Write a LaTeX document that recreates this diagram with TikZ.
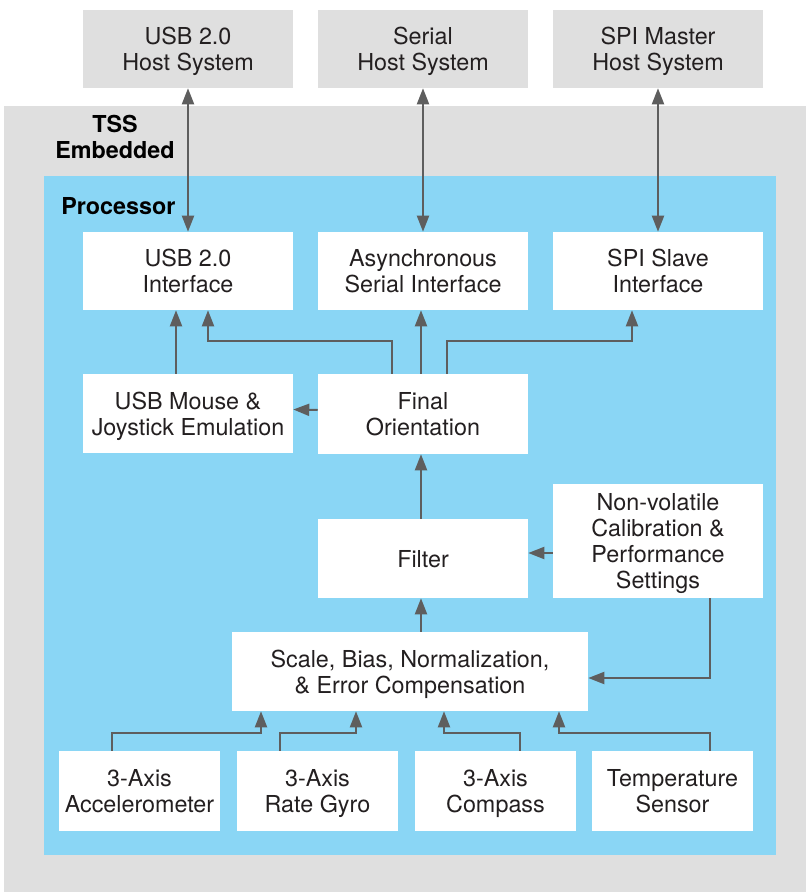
\documentclass[tikz,border=0pt]{standalone}
\usepackage{fontspec}
\setmainfont{TeX Gyre Heros}
\usetikzlibrary{arrows.meta,calc}
\definecolor{tssgrey}{HTML}{DFDFDF}
\definecolor{procblue}{HTML}{8AD6F5}
\definecolor{linkgrey}{HTML}{5E5E5E}
\definecolor{inktext}{HTML}{231F20}
\tikzset{
	block/.style={fill=white, text=inktext, align=center, inner sep=0pt,
		minimum width=157.5pt, minimum height=58.5pt, text depth=0pt,
		font=\fontsize{17.5}{19.3}\selectfont},
	hostblock/.style={block, fill=tssgrey},
	sensorblock/.style={block, minimum width=120.75pt, minimum height=60pt},
	tsslabel/.style={text=black, align=center, inner sep=0pt,
		font=\bfseries\fontsize{17.5}{19}\selectfont},
	link/.style={draw=linkgrey, line width=1.5pt, -{Triangle[length=12pt,width=9pt]}},
	duplex/.style={link, {Triangle[length=12pt,width=9pt]}-{Triangle[length=12pt,width=9pt]}}
}
\begin{document}
\begin{tikzpicture}[x=0.75pt, y=-0.75pt]
					%\draw[help lines] (0,0) grid[step=50] (806,892);
					\useasboundingbox (0,0) rectangle (806,892);
					\fill[tssgrey] (4,106) rectangle (806,892);
					\fill[procblue] (44,176) rectangle (776,855);
					\node[tsslabel] (tss) at (115,137) {TSS\\Embedded};
					\node[tsslabel, anchor=west] (proc) at (61,206) {Processor};
					
					% hosts
					\node[hostblock] (usbhost) at (188,49) {USB 2.0\\Host System};
					\node[hostblock] (serhost) at (423,49) {Serial\\Host System};
					\node[hostblock] (spihost) at (658,49) {SPI Master\\Host System};
					
					% interfaces
					\node[block] (usbif) at (188,271) {USB 2.0\\Interface};
					\node[block] (asyncif) at (423,271) {Asynchronous\\Serial Interface};
					\node[block] (spiif) at (658,271) {SPI Slave\\Interface};
					
					\node[block, minimum height=59.25pt] (mouse) at (188,413.5) {USB Mouse \&\\Joystick Emulation};
					\node[block, minimum height=60pt] (final) at (423,414) {Final\\Orientation};
					\node[block, minimum height=59.25pt] (filter) at (423,558.5) {Filter};
					\node[block, minimum height=85.5pt] (nonvol) at (658,541) {Non-volatile\\Calibration \&\\Performance\\Settings};
					\node[block, minimum width=267pt, minimum height=59.25pt] (scale) at (410,671.5) {Scale, Bias, Normalization,\\\& Error Compensation};
					
					% sensors
					\node[sensorblock] (accel) at (139.5,791) {3-Axis\\Accelerometer};
					\node[sensorblock] (gyro) at (317.5,791) {3-Axis\\Rate Gyro};
					\node[sensorblock] (compass) at (495.5,791) {3-Axis\\Compass};
					\node[sensorblock] (temp) at (672.5,791) {Temperature\\Sensor};
					
					\draw[duplex] (usbhost.south) -- (usbif.north);
					\draw[duplex] (serhost.south) -- (asyncif.north);
					\draw[duplex] (spihost.south) -- (spiif.north);
					
					\draw[link] ($(mouse.north)+(-12,0)$) -- ($(usbif.south)+(-12,0)$);
					\draw[link] ($(final.north)+(-31,0)$) -- ++(0,-33) -| ($(usbif.south)+(20,0)$);
					\draw[link] ($(final.north)+(-2,0)$) -- ($(asyncif.south)+(-2,0)$);
					\draw[link] ($(final.north)+(24,0)$) -- ++(0,-33) -| ($(spiif.south)+(-26,0)$);
					\draw[link] ($(final.west)+(0,-4)$) -- ($(mouse.east)+(0,-4)$);
					\draw[link] ($(filter.north)+(-2,0)$) -- ($(final.south)+(-2,0)$);
					\coordinate (nv) at ($(nonvol.west)+(0,12)$);
					\draw[link] (nv) -- (nv -| filter.east);
					\coordinate (sc) at ($(filter.south)+(-2,0)$);
					\draw[link] (sc |- scale.north) -- (sc);
					\draw[link] ($(nonvol.south)+(52,0)$) |- ($(scale.east)+(0,6.5)$);
					
					\draw[link] ($(accel.north)+(-28,0)$) -- ++(0,-18) -| ($(scale.south)+(-149,0)$);
					\draw[link] ($(gyro.north)+(-37.5,0)$) -- ++(0,-18) -| ($(scale.south)+(-54,0)$);
					\draw[link] ($(compass.north)+(24.5,0)$) -- ++(0,-18) -| ($(scale.south)+(34,0)$);
					\draw[link] ($(temp.north)+(37.5,0)$) -- ++(0,-18) -| ($(scale.south)+(149,0)$);
				\end{tikzpicture}
\end{document}
